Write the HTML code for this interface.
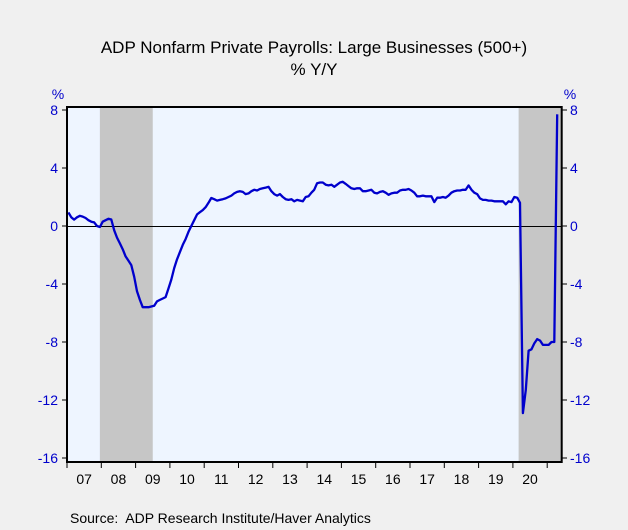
<!DOCTYPE html>
<html><head><meta charset="utf-8"><style>
html,body{margin:0;padding:0;background:#f0f0f0;}
svg{display:block;font-family:"Liberation Sans",sans-serif;}
</style></head><body>
<svg id="chart" width="628" height="530" viewBox="0 0 628 530" xmlns="http://www.w3.org/2000/svg">
<rect x="0" y="0" width="628" height="530" fill="#f0f0f0"/>
<text x="314" y="53" text-anchor="middle" font-size="17" fill="#000">ADP Nonfarm Private Payrolls: Large Businesses (500+)</text>
<text x="314" y="75" text-anchor="middle" font-size="17" fill="#000">% Y/Y</text>
<text x="58" y="99" text-anchor="middle" font-size="14" fill="#0000cc">%</text>
<text x="570" y="99" text-anchor="middle" font-size="14" fill="#0000cc">%</text>
<rect x="67" y="107" width="494.7" height="355" fill="#eef5ff"/>
<g id="rec"></g>
<g id="axes"></g>
<path id="line" fill="none" stroke="#0000cc" stroke-width="2.3" stroke-linejoin="round"/>
<rect x="67" y="107" width="494.7" height="355" fill="none" stroke="#000" stroke-width="2"/>
<text x="70" y="523" font-size="14" fill="#000">Source:&#160; ADP Research Institute/Haver Analytics</text>
</svg>
<script>
const yTicks=[8,4,0,-4,-8,-12,-16];
const yearLabels=["07","08","09","10","11","12","13","14","15","16","17","18","19","20"];
const recessions=[[11.5,30],[158,173.1]];
const values=[0.94,0.6,0.44,0.6,0.7,0.65,0.55,0.4,0.3,0.25,0.0,-0.07,
0.3,0.4,0.5,0.45,-0.3,-0.8,-1.2,-1.6,-2.1,-2.4,-2.7,-3.5,
-4.5,-5.1,-5.6,-5.6,-5.6,-5.55,-5.5,-5.2,-5.1,-5.0,-4.9,-4.3,
-3.7,-2.9,-2.3,-1.8,-1.3,-0.9,-0.4,0.0,0.4,0.8,0.95,1.1,
1.3,1.6,1.93,1.85,1.75,1.8,1.85,1.9,2.0,2.1,2.25,2.35,
2.4,2.35,2.2,2.25,2.4,2.5,2.45,2.55,2.6,2.65,2.7,2.4,
2.2,2.1,2.2,2.0,1.85,1.8,1.85,1.7,1.8,1.75,1.7,2.0,
2.05,2.3,2.5,2.95,3.0,3.0,2.85,2.8,2.85,2.7,2.85,3.0,
3.05,2.9,2.75,2.6,2.55,2.6,2.6,2.4,2.4,2.45,2.5,2.3,
2.25,2.35,2.4,2.3,2.15,2.25,2.3,2.3,2.45,2.5,2.5,2.55,
2.45,2.3,2.05,2.05,2.1,2.05,2.05,2.05,1.65,1.95,1.95,2.0,
1.95,2.1,2.3,2.4,2.45,2.45,2.5,2.5,2.8,2.5,2.3,2.2,
1.9,1.8,1.8,1.75,1.75,1.7,1.7,1.7,1.7,1.5,1.7,1.65,
2.0,1.95,1.6,-12.9,-11.3,-8.6,-8.5,-8.1,-7.8,-7.9,-8.2,-8.2,
-8.2,-8.0,-8.0,7.7];
const NS="http://www.w3.org/2000/svg";
const X0=67,PX=34.3/12,Y0=226,PY=14.5;
function xs(m){return X0+(m+0.5)*PX;}
function xEdge(m){return X0+m*PX;}
function ys(v){return Y0-v*PY;}
const rec=document.getElementById('rec');
recessions.forEach(r=>{
 const e=document.createElementNS(NS,'rect');
 
 
 const a=xEdge(r[0]),b=Math.min(xEdge(r[1]),561.7);
 e.setAttribute('x',a);e.setAttribute('y',107);e.setAttribute('width',b-a);e.setAttribute('height',355);
 e.setAttribute('fill','#c6c6c6');rec.appendChild(e);
});
const ax=document.getElementById('axes');
function mk(tag,attrs){const e=document.createElementNS(NS,tag);for(const k in attrs)e.setAttribute(k,attrs[k]);ax.appendChild(e);return e;}
const zl=mk('line',{x1:67,x2:561.7,y1:ys(0)+0.5,y2:ys(0)+0.5,stroke:'#000','stroke-width':1});


yTicks.forEach(t=>{
 const y=ys(t);
 const a=mk('line',{x1:62,x2:67,y1:y,y2:y,stroke:'#000'});
 
 
 const b=mk('line',{x1:561.7,x2:567,y1:y,y2:y,stroke:'#000'});
 
 
 const l=mk('text',{x:58,y:y+5,'text-anchor':'end','font-size':14,fill:'#0000cc'});
 l.textContent=t;
 
 
 const r=mk('text',{x:570,y:y+5,'text-anchor':'start','font-size':14,fill:'#0000cc'});
 r.textContent=t;
 
 
});
yearLabels.forEach((lab,i)=>{
 const x=xEdge(i*12);
 const t=mk('line',{x1:x,x2:x,y1:462,y2:468,stroke:'#000'});
 
 
 const l=mk('text',{x:xEdge(i*12+6),y:484,'text-anchor':'middle','font-size':14,fill:'#000'});
 l.textContent=lab;
 
 
});
const lt=mk('line',{x1:xEdge(168),x2:xEdge(168),y1:462,y2:468,stroke:'#000'});


document.getElementById('line').setAttribute('d',values.map((v,i)=>(i?'L':'M')+xs(i).toFixed(1)+','+ys(v).toFixed(1)).join(''));
</script>
</body></html>
